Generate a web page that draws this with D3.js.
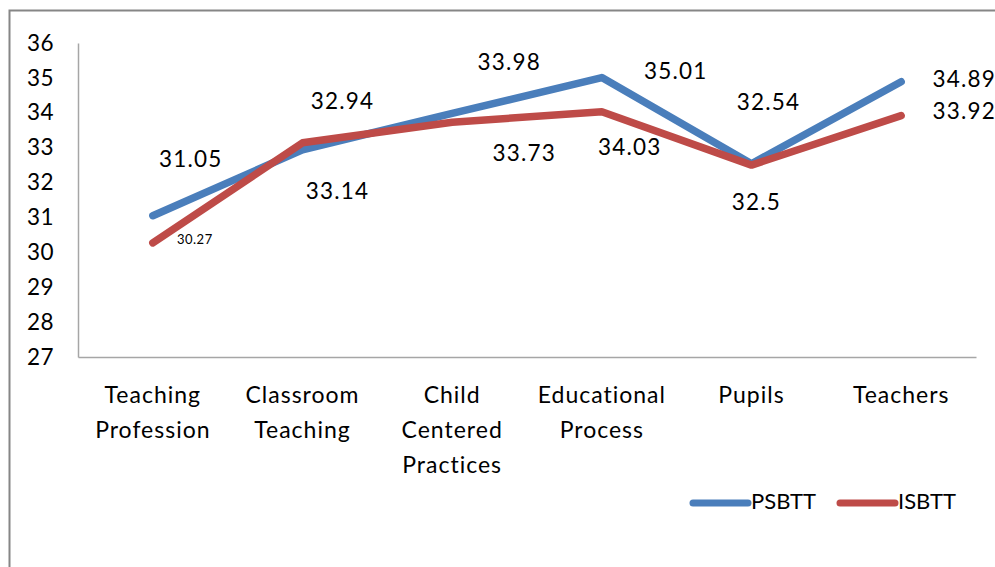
<!DOCTYPE html>
<html>
<head>
    <script src="https://d3js.org/d3.v7.min.js"></script>
    <style>
        body { margin: 0; background: #fff; }
        text { font-family: Lato, "Open Sans", sans-serif; fill: #000; }
    </style>
</head>
<body>
    <script>
        //****DATA****
        const categories = [
            ['Teaching', 'Profession'],
            ['Classroom', 'Teaching'],
            ['Child', 'Centered', 'Practices'],
            ['Educational', 'Process'],
            ['Pupils'],
            ['Teachers']
        ];
        const psbtt = [31.05, 32.94, 33.98, 35.01, 32.54, 34.89];
        const isbtt = [30.27, 33.14, 33.73, 34.03, 32.5, 33.92];
        const yTicks = [27, 28, 29, 30, 31, 32, 33, 34, 35, 36];

        // label offsets relative to each point (as placed in the original)
        const psbttLabelPos = [[38, -54], [40, -46], [57, -49], [74, -4], [17, -59], [63, 0]];
        const isbttLabelPos = [[42, -2], [35, 51], [72, 33], [28, 38], [5, 39], [63, -2]];

        //****CANVAS****
        const width = 995, height = 567;
        const padLeft = 78, padTop = 43, plotW = 898, plotH = 314;

        const svg = d3.select('body').append('svg')
            .attr('width', width)
            .attr('height', height);

        // outer chart border
        svg.append('rect')
            .attr('x', 9.5).attr('y', 10.5)
            .attr('width', 1000).attr('height', 600)
            .attr('fill', 'none')
            .attr('stroke', '#868686')
            .attr('stroke-width', 2);

        //****SCALES****
        const x = d3.scaleBand()
            .domain(d3.range(categories.length))
            .range([0, plotW]);

        const y = d3.scaleLinear()
            .domain([27, 36])
            .range([plotH, 0]);

        const g = svg.append('g')
            .attr('transform', `translate(${padLeft}, ${padTop})`);

        //****AXES****
        const yAxis = g.append('g')
            .call(d3.axisLeft(y).tickValues(yTicks).tickSize(0).tickPadding(12).tickFormat(d3.format('d')));
        yAxis.select('.domain').attr('stroke', '#a6a6a6').attr('stroke-width', 1.5);
        yAxis.selectAll('text')
            .style('font-size', '22.5px')
            .style('letter-spacing', '0.5px')
            .attr('text-anchor', 'start')
            .attr('x', -51);

        const xAxis = g.append('g')
            .attr('transform', `translate(0, ${plotH})`)
            .call(d3.axisBottom(x).tickSize(0).tickFormat(''));
        xAxis.select('.domain').attr('stroke', '#a6a6a6').attr('stroke-width', 1.5);

        xAxis.selectAll('.tick').each(function(d) {
            const t = d3.select(this).append('text')
                .attr('text-anchor', 'middle')
                .attr('y', 46)
                .style('font-size', '23px')
                .style('letter-spacing', '1px');
            categories[d].forEach((line, i) => {
                t.append('tspan').attr('x', 0).attr('dy', i === 0 ? 0 : 35).text(line);
            });
        });

        //****LINES****
        const cx = i => x(i) + x.bandwidth() / 2;
        const line = d3.line()
            .x((d, i) => cx(i))
            .y(d => y(d));

        const series = [
            { name: 'PSBTT', values: psbtt, color: '#4a7ebb', labels: psbttLabelPos },
            { name: 'ISBTT', values: isbtt, color: '#be4b48', labels: isbttLabelPos }
        ];

        series.forEach(s => {
            g.append('path')
                .datum(s.values)
                .attr('d', line)
                .attr('fill', 'none')
                .attr('stroke', s.color)
                .attr('stroke-width', 7.5)
                .attr('stroke-linecap', 'round')
                .attr('stroke-linejoin', 'round');
        });

        // data labels
        series.forEach(s => {
            g.selectAll(null)
                .data(s.values)
                .enter()
                .append('text')
                .attr('x', (d, i) => cx(i) + s.labels[i][0])
                .attr('y', (d, i) => y(d) + s.labels[i][1])
                .attr('text-anchor', 'middle')
                .attr('dominant-baseline', 'middle')
                .style('font-size', (d, i) => (s.name === 'ISBTT' && i === 0) ? '13px' : '22.5px')
                .style('letter-spacing', (d, i) => (s.name === 'ISBTT' && i === 0) ? '0.5px' : '1.2px')
                .text(d => d);
        });

        //****LEGEND****
        const legend = svg.append('g').attr('transform', 'translate(693, 503)');
        series.forEach((s, i) => {
            const lg = legend.append('g').attr('transform', `translate(${i * 147}, 0)`);
            lg.append('line')
                .attr('x1', 0).attr('x2', 55)
                .attr('stroke', s.color)
                .attr('stroke-width', 7)
                .attr('stroke-linecap', 'round');
            lg.append('text')
                .attr('x', 58)
                .attr('dominant-baseline', 'middle')
                .style('font-size', '22px')
                .text(s.name);
        });
    </script>
</body>
</html>
